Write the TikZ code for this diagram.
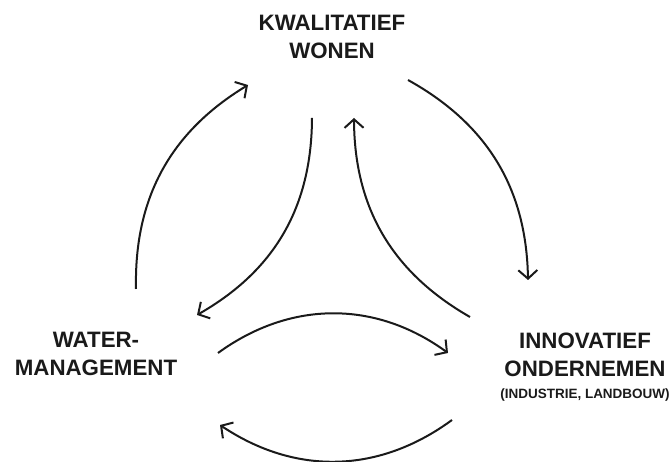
\documentclass[tikz,border=0pt]{standalone}
\usepackage{fontspec}
\setmainfont{Liberation Sans}
\usepackage{xcolor}
\usetikzlibrary{arrows.meta,positioning}

\definecolor{ink}{HTML}{1A1A1A}
\tikzset{
  title/.style={font=\bfseries\fontsize{22.3}{28}\selectfont, text=ink, align=center, inner sep=0pt},
  subtitle/.style={font=\bfseries\fontsize{13.5}{16}\selectfont, text=ink, inner sep=0pt},
  cyclearrow/.style={draw=ink, line width=2pt, -{Straight Barb[length=8.5pt,width=19pt,line width=2pt]}}
}

\begin{document}
\begin{tikzpicture}[x=1pt,y=1pt]
    % Here I fix the page size
    \useasboundingbox (0,0) rectangle (670,462);

    % using node for text
    \node[title, anchor=north] (wonen) at (332,447) {KWALITATIEF\\WONEN};
    \node[title, anchor=north] (water) at (96,130) {WATER-\\MANAGEMENT};
    \node[title, anchor=north] (ondernemen) at (585,129) {INNOVATIEF\\ONDERNEMEN};
    \node[subtitle, below=11pt of ondernemen] (sector) {(INDUSTRIE, LANDBOUW)};

    % Here is the end points of the arrows
    \coordinate (wl1) at (136,173);
    \coordinate (wl2) at (248,377);
    \coordinate (wr1) at (408,382);
    \coordinate (wr2) at (528,182);
    \coordinate (ob1) at (452,42);
    \coordinate (ob2) at (220,37);
    \coordinate (il1) at (312,344);
    \coordinate (il2) at (197,147);
    \coordinate (ir1) at (470,145);
    \coordinate (ir2) at (354,344);
    \coordinate (ib1) at (218,109);
    \coordinate (ib2) at (448,109);

    % Here are the outer arrows
    \draw[cyclearrow] (wl1) to[bend left=30] (wl2);
    \draw[cyclearrow] (wr1) to[bend left=30] (wr2);
    \draw[cyclearrow] (ob1) to[bend left=35] (ob2);

    % Here are the inner arrows
    \draw[cyclearrow] (il1) to[bend left=30] (il2);
    \draw[cyclearrow] (ir1) to[bend left=30] (ir2);
    \draw[cyclearrow] (ib1) to[bend left=36] (ib2);
\end{tikzpicture}
\end{document}
